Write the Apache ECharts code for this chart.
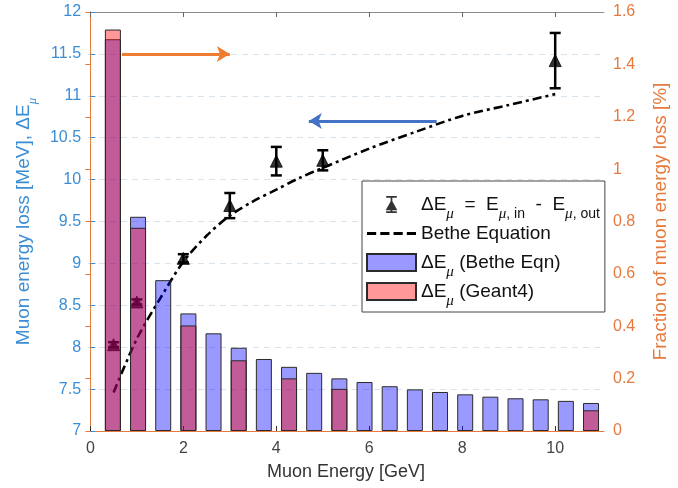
<!DOCTYPE html>
<html><head><meta charset="utf-8">
<script src="https://cdn.jsdelivr.net/npm/echarts@6/dist/echarts.min.js"></script>
<style>html,body{margin:0;padding:0;background:#fff}#c{width:678px;height:488px}</style>
</head><body><div id="c"></div>
<script>
// ---- data ----
const xTickValues = [0, 2, 4, 6, 8, 10];
const pointEnergy = [0.5, 1, 2, 3, 4, 5, 10];
const pointLoss   = [8.03, 8.54, 9.06, 9.69, 10.22, 10.23, 11.42];
const pointErr    = [0.03, 0.03, 0.05, 0.15, 0.17, 0.12, 0.33];
const betheEnergy = [0.5, 1, 1.5, 2, 2.5, 3, 3.5, 4, 4.5, 5, 6, 7, 8, 9, 10];
const betheLoss   = [7.46, 8.1, 8.58, 9.02, 9.33, 9.57, 9.74, 9.88, 10.02, 10.14, 10.37, 10.57, 10.76, 10.89, 11.02];
const barCategories = ['0.5','1','1.5','2','2.5','3','3.5','4','4.5','5','5.5','6','6.5','7','7.5','8','8.5','9','9.5','10'];
const betheFraction = [1.496, 0.818, 0.576, 0.449, 0.373, 0.318, 0.275, 0.245, 0.222, 0.201, 0.187, 0.171, 0.159, 0.149, 0.140, 0.131, 0.125, 0.121, 0.115, 0.107];
const geantFraction = [1.533, 0.776, '-', 0.403, '-', 0.270, '-', 0.201, '-', 0.161, '-', '-', '-', '-', '-', '-', '-', '-', '-', 0.079];

const FONT = 'Liberation Sans, Arial, Helvetica, sans-serif';
const LBLUE = '#3b8dd4', ORANGE = '#e6793c';

const chart = echarts.init(document.getElementById('c'), null, {renderer: 'canvas'});

const subStyle = {fontSize: 14, fontFamily: FONT, color: '#111', padding: [20, 0, 0, 0], lineHeight: 20};
const subItalic = Object.assign({}, subStyle, {fontStyle: 'italic', fontFamily: 'Liberation Serif, serif', fontSize: 15});

const option = {
  animation: false,
  textStyle: {fontFamily: FONT},
  grid: [
    {left: 86, right: 61, top: 12, bottom: 57},
    {left: 100.3, right: 74.4, top: 12, bottom: 57}
  ],
  xAxis: [
    {
      gridIndex: 0, type: 'value', min: -0.05, max: 11.05, position: 'bottom',
      axisLine: {show: true, lineStyle: {color: ORANGE, width: 1}},
      axisTick: {show: true, inside: true, length: 5, customValues: xTickValues, lineStyle: {color: '#333'}},
      axisLabel: {customValues: xTickValues, color: '#444', fontSize: 16, margin: 10, fontFamily: FONT},
      splitLine: {show: false},
      name: 'Muon Energy [GeV]', nameLocation: 'middle', nameGap: 32,
      nameTextStyle: {fontSize: 18, color: '#333', fontFamily: FONT}
    },
    {
      gridIndex: 0, type: 'value', min: -0.05, max: 11.05, position: 'top',
      axisLine: {show: true, lineStyle: {color: '#8c8c8c', width: 1}},
      axisTick: {show: true, inside: true, length: 5, customValues: xTickValues, lineStyle: {color: '#666'}},
      axisLabel: {show: false},
      splitLine: {show: false}
    },
    {
      gridIndex: 1, type: 'category', data: barCategories, show: false
    }
  ],
  yAxis: [
    {
      gridIndex: 0, type: 'value', position: 'left', min: 7, max: 12, interval: 0.5,
      axisLine: {show: true, lineStyle: {color: LBLUE, width: 1}},
      axisTick: {show: true, inside: true, length: 5, lineStyle: {color: LBLUE}},
      axisLabel: {color: LBLUE, fontSize: 16, margin: 7, fontFamily: FONT},
      splitLine: {show: true, showMinLine: false, showMaxLine: false, lineStyle: {color: '#d9e3ec', type: [6, 5], width: 1}},
      name: 'Muon energy loss [MeV], ΔE{s|μ}', nameLocation: 'middle', nameGap: 52, nameRotate: 90,
      nameTextStyle: {fontSize: 19, color: LBLUE, fontFamily: FONT, lineHeight: 24,
        rich: {s: {fontSize: 13, color: LBLUE, fontStyle: 'italic', fontFamily: 'Liberation Serif, serif', padding: [18, 0, 0, 0], lineHeight: 20}}}
    },
    {
      gridIndex: 0, type: 'value', position: 'right', min: 0, max: 1.6, interval: 0.2,
      axisLine: {show: true, lineStyle: {color: ORANGE, width: 1}},
      axisTick: {show: true, inside: true, length: 5, lineStyle: {color: ORANGE}},
      axisLabel: {color: ORANGE, fontSize: 16, margin: 9, fontFamily: FONT},
      splitLine: {show: false},
      name: 'Fraction of muon energy loss [%]', nameLocation: 'middle', nameGap: 47, nameRotate: 90,
      nameTextStyle: {fontSize: 19, color: ORANGE, fontFamily: FONT}
    },
    {
      gridIndex: 1, type: 'value', min: 0, max: 1.6, show: false
    }
  ],
  legend: {
    orient: 'vertical', left: 362, top: 181, z: 10,
    padding: [6, 5, 3, 4], itemGap: -6, itemWidth: 49, itemHeight: 17, itemTextGap: 5,
    backgroundColor: '#fff', borderColor: '#444', borderWidth: 1, borderRadius: 0,
    selectedMode: false,
    data: [
      {name: 'measured', icon: 'path://M0,0h10v1.6h-10z M4.2,0h1.6v16h-1.6z M0,14.4h10v1.6h-10z M5,3.5L10.5,13.5L-0.5,13.5Z',
       itemStyle: {color: '#000', borderWidth: 0}},
      {name: 'betheLine', icon: 'path://M0,0h9v2.8h-9z M13,0h9v2.8h-9z M26,0h9v2.8h-9z M39,0h9v2.8h-9z',
       itemStyle: {color: '#000', borderWidth: 0}},
      {name: 'betheBar', icon: 'rect'},
      {name: 'geantBar', icon: 'rect'}
    ],
    formatter: function (name) {
      if (name === 'measured') return '{m|ΔE}{i|μ}{m|  =  E}{i|μ}{s|, in}{m|  -  E}{i|μ}{s|, out}';
      if (name === 'betheLine') return '{m|Bethe Equation}{i| }';
      if (name === 'betheBar') return '{m|ΔE}{i|μ}{m| (Bethe Eqn)}';
      return '{m|ΔE}{i|μ}{m| (Geant4)}';
    },
    textStyle: {
      fontSize: 19, color: '#111', fontFamily: FONT,
      rich: {
        m: {fontSize: 19, color: '#111', fontFamily: FONT, lineHeight: 24},
        s: subStyle,
        i: subItalic
      }
    }
  },
  series: [
    {
      name: 'betheLine', type: 'line', xAxisIndex: 0, yAxisIndex: 0, z: 2,
      data: betheEnergy.map((e, i) => [e, betheLoss[i]]),
      symbol: 'none', smooth: 0.3,
      lineStyle: {color: '#000', width: 2.6, type: [9, 4, 3, 4]},
      itemStyle: {color: '#000'},
      emphasis: {disabled: true},
      markLine: {
        silent: true, symbol: ['none', 'arrow'], symbolSize: [12, 13],
        label: {show: false}, emphasis: {disabled: true}, animation: false,
        data: [
          [{coord: [0.68, 11.5], lineStyle: {color: '#ee7d31', width: 3, type: 'solid'}, itemStyle: {color: '#ee7d31'}}, {coord: [3.0, 11.5]}],
          [{coord: [7.45, 10.7], lineStyle: {color: '#4472c4', width: 3, type: 'solid'}, itemStyle: {color: '#4472c4'}}, {coord: [4.7, 10.7]}]
        ]
      }
    },
    {
      name: 'err', type: 'custom', xAxisIndex: 0, yAxisIndex: 0, z: 2,
      data: pointEnergy.map((e, i) => [e, pointLoss[i], pointErr[i]]),
      encode: {x: 0, y: 1},
      renderItem: function (params, api) {
        const x = api.value(0), y = api.value(1), e = api.value(2);
        const t = api.coord([x, y + e]), b = api.coord([x, y - e]);
        const hw = 5.5;
        const st = {stroke: '#000', lineWidth: 2.5};
        return {type: 'group', children: [
          {type: 'line', shape: {x1: t[0], y1: t[1], x2: b[0], y2: b[1]}, style: st},
          {type: 'line', shape: {x1: t[0] - hw, y1: t[1], x2: t[0] + hw, y2: t[1]}, style: st},
          {type: 'line', shape: {x1: b[0] - hw, y1: b[1], x2: b[0] + hw, y2: b[1]}, style: st}
        ]};
      }
    },
    {
      name: 'measured', type: 'scatter', xAxisIndex: 0, yAxisIndex: 0, z: 3,
      data: pointEnergy.map((e, i) => [e, pointLoss[i]]),
      symbol: 'triangle', symbolSize: 12,
      itemStyle: {color: '#000', borderColor: '#000', borderWidth: 1},
      emphasis: {disabled: true}
    },
    {
      name: 'betheBar', type: 'bar', xAxisIndex: 2, yAxisIndex: 2, z: 5,
      data: betheFraction, barWidth: 16,
      itemStyle: {color: 'rgba(0,0,255,0.4)', borderColor: '#2a2a2a', borderWidth: 1},
      emphasis: {disabled: true}
    },
    {
      name: 'geantBar', type: 'bar', xAxisIndex: 2, yAxisIndex: 2, z: 6,
      data: geantFraction, barWidth: 16, barGap: '-100%',
      itemStyle: {color: 'rgba(255,0,0,0.4)', borderColor: '#2a2a2a', borderWidth: 1},
      emphasis: {disabled: true}
    }
  ]
};
chart.setOption(option);
</script>
</body></html>
